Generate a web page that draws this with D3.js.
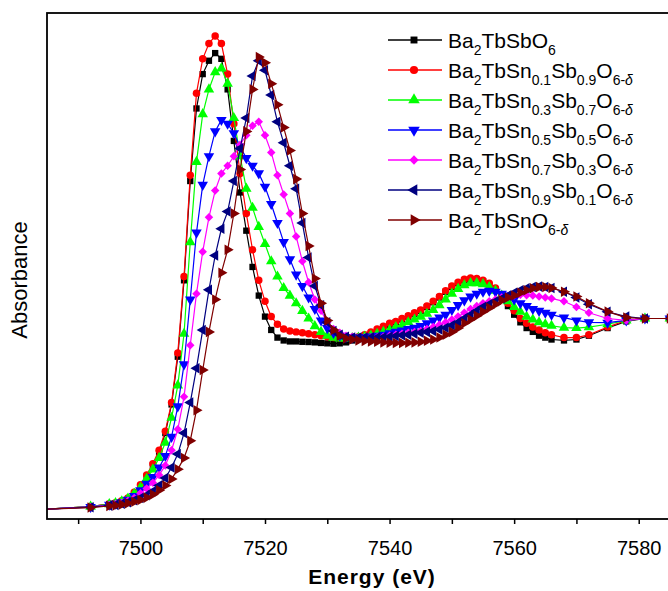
<!DOCTYPE html>
<html><head><meta charset="utf-8">
<script src="https://cdn.jsdelivr.net/npm/d3@7"></script>
<style>
body{margin:0;background:#fff}
svg{display:block}
text{font-family:"Liberation Sans",Arial,Helvetica,sans-serif;fill:#000}
</style>
</head><body>
<svg id="chart" width="668" height="591"></svg>
<script>
// ---------- DATA ----------
const energy = [7484, 7492, 7495,
 7496, 7497, 7498, 7499, 7500, 7501, 7502, 7503, 7504, 7505,
 7506, 7507, 7508, 7509, 7510, 7511, 7512, 7513, 7514, 7515,
 7516, 7517, 7518, 7519, 7520, 7521, 7522, 7523, 7524, 7525,
 7526, 7527, 7528, 7529, 7530, 7531, 7532, 7533, 7534, 7535,
 7536, 7537, 7538, 7539, 7540, 7541, 7542, 7543, 7544, 7545,
 7546, 7547, 7548, 7549, 7550, 7551, 7552, 7553, 7554, 7555,
 7556, 7557, 7558, 7559, 7560, 7561, 7562, 7563, 7564, 7565,
 7566, 7568, 7570, 7572, 7575, 7578, 7581, 7585, 7589];

const ba2tbsbo6 = [0.0, 0.015, 0.028,
 0.033, 0.04, 0.055, 0.08, 0.12, 0.17, 0.23, 0.30, 0.40, 0.55,
 0.80, 1.20, 1.72, 2.10, 2.28, 2.35, 2.39, 2.36, 2.20, 1.93,
 1.66, 1.46, 1.27, 1.12, 1.01, 0.94, 0.90, 0.885, 0.88, 0.88,
 0.878, 0.877, 0.875, 0.872, 0.87, 0.868, 0.87, 0.875, 0.885, 0.895,
 0.905, 0.92, 0.935, 0.95, 0.965, 0.98, 0.995, 1.01, 1.025, 1.04,
 1.06, 1.085, 1.11, 1.14, 1.165, 1.185, 1.20, 1.205, 1.205, 1.195,
 1.175, 1.15, 1.11, 1.065, 1.02, 0.98, 0.95, 0.93, 0.91, 0.90,
 0.89, 0.885, 0.89, 0.91, 0.95, 0.985, 1.0, 1.0, 1.0];

const sn01 = [0.0, 0.015, 0.03,
 0.035, 0.045, 0.06, 0.09, 0.13, 0.18, 0.24, 0.31, 0.41, 0.56,
 0.82, 1.22, 1.75, 2.18, 2.36, 2.44, 2.48, 2.44, 2.28, 2.02,
 1.76, 1.55, 1.36, 1.20, 1.09, 1.01, 0.97, 0.945, 0.935, 0.93,
 0.925, 0.92, 0.915, 0.91, 0.905, 0.90, 0.898, 0.898, 0.90, 0.905,
 0.915, 0.93, 0.945, 0.96, 0.975, 0.985, 1.0, 1.015, 1.03, 1.045,
 1.065, 1.09, 1.115, 1.145, 1.17, 1.19, 1.205, 1.212, 1.21, 1.20,
 1.185, 1.16, 1.12, 1.08, 1.04, 1.0, 0.975, 0.955, 0.94, 0.925,
 0.915, 0.90, 0.90, 0.915, 0.955, 0.99, 1.0, 1.0, 1.0];

const sn03 = [0.0, 0.015, 0.028,
 0.033, 0.042, 0.057, 0.082, 0.115, 0.16, 0.21, 0.27, 0.35, 0.48,
 0.65, 0.92, 1.40, 1.82, 2.07, 2.20, 2.29, 2.31, 2.23, 2.05,
 1.85, 1.68, 1.58, 1.48, 1.39, 1.30, 1.22, 1.16, 1.12, 1.08,
 1.04, 1.00, 0.96, 0.93, 0.91, 0.90, 0.895, 0.895, 0.897, 0.90,
 0.905, 0.91, 0.92, 0.93, 0.94, 0.955, 0.965, 0.98, 0.995, 1.01,
 1.025, 1.045, 1.07, 1.10, 1.13, 1.155, 1.175, 1.185, 1.185, 1.18,
 1.165, 1.145, 1.12, 1.09, 1.06, 1.035, 1.01, 0.995, 0.98, 0.97,
 0.962, 0.952, 0.95, 0.955, 0.97, 0.99, 1.0, 1.0, 1.0];

const sn05 = [0.0, 0.013, 0.025,
 0.03, 0.038, 0.05, 0.07, 0.10, 0.135, 0.17, 0.22, 0.28, 0.38,
 0.54, 0.76, 1.10, 1.45, 1.70, 1.85, 1.98, 2.04, 2.02, 1.97,
 1.90, 1.84, 1.80, 1.76, 1.69, 1.60, 1.50, 1.40, 1.31, 1.23,
 1.17, 1.11, 1.05, 0.99, 0.95, 0.925, 0.91, 0.903, 0.90, 0.90,
 0.902, 0.905, 0.91, 0.915, 0.922, 0.93, 0.937, 0.945, 0.952, 0.96,
 0.975, 0.99, 1.005, 1.02, 1.045, 1.07, 1.095, 1.115, 1.13, 1.14,
 1.145, 1.14, 1.13, 1.12, 1.10, 1.08, 1.065, 1.05, 1.04, 1.03,
 1.02, 1.005, 0.99, 0.98, 0.978, 0.99, 1.0, 1.0, 1.0];

const sn07 = [0.0, 0.013, 0.023,
 0.028, 0.035, 0.045, 0.06, 0.085, 0.11, 0.14, 0.18, 0.23, 0.31,
 0.42, 0.59, 0.86, 1.13, 1.35, 1.53, 1.67, 1.76, 1.80, 1.85,
 1.91, 1.96, 2.01, 2.03, 1.96, 1.87, 1.75, 1.65, 1.55, 1.43,
 1.30, 1.19, 1.10, 1.04, 0.98, 0.945, 0.925, 0.91, 0.905, 0.90,
 0.90, 0.90, 0.902, 0.905, 0.91, 0.915, 0.92, 0.925, 0.93, 0.935,
 0.945, 0.955, 0.967, 0.98, 0.995, 1.01, 1.03, 1.05, 1.065, 1.08,
 1.09, 1.10, 1.11, 1.118, 1.122, 1.124, 1.122, 1.12, 1.115, 1.11,
 1.105, 1.09, 1.06, 1.03, 1.00, 0.99, 1.0, 1.0, 1.0];

const sn09 = [0.0, 0.012, 0.02,
 0.024, 0.03, 0.038, 0.048, 0.06, 0.075, 0.095, 0.125, 0.165, 0.22,
 0.29, 0.40, 0.56, 0.74, 0.94, 1.15, 1.33, 1.47, 1.56, 1.72,
 1.89, 2.05, 2.27, 2.35, 2.30, 2.17, 2.03, 1.92, 1.80, 1.68,
 1.50, 1.32, 1.17, 1.07, 0.98, 0.935, 0.915, 0.905, 0.90, 0.90,
 0.90, 0.90, 0.90, 0.902, 0.905, 0.908, 0.912, 0.915, 0.92, 0.925,
 0.93, 0.935, 0.943, 0.952, 0.965, 0.98, 1.00, 1.02, 1.04, 1.06,
 1.075, 1.09, 1.105, 1.12, 1.135, 1.148, 1.158, 1.165, 1.168, 1.165,
 1.16, 1.14, 1.11, 1.075, 1.035, 1.01, 1.0, 1.0, 1.0];

const sn10 = [0.0, 0.01, 0.018,
 0.021, 0.026, 0.032, 0.04, 0.05, 0.062, 0.078, 0.10, 0.125, 0.16,
 0.21, 0.27, 0.36, 0.52, 0.73, 0.93, 1.10, 1.24, 1.36, 1.55,
 1.78, 1.98, 2.20, 2.37, 2.34, 2.23, 2.12, 2.00, 1.88, 1.73,
 1.55, 1.38, 1.21, 1.08, 0.99, 0.94, 0.91, 0.895, 0.89, 0.885,
 0.882, 0.88, 0.878, 0.875, 0.873, 0.872, 0.872, 0.873, 0.875, 0.878,
 0.883, 0.89, 0.90, 0.915, 0.93, 0.95, 0.975, 0.995, 1.015, 1.035,
 1.055, 1.075, 1.095, 1.11, 1.12, 1.135, 1.148, 1.158, 1.165, 1.165,
 1.16, 1.14, 1.115, 1.08, 1.036, 1.005, 1.0, 1.0, 1.0];

const seriesValues = [ba2tbsbo6, sn01, sn03, sn05, sn07, sn09, sn10];

// legend labels: [text, kind] kind: "" main, "s" subscript, "si" italic subscript
const legendLabels = [
  [["Ba",""],["2","s"],["TbSbO",""],["6","s"]],
  [["Ba",""],["2","s"],["TbSn",""],["0.1","s"],["Sb",""],["0.9","s"],["O",""],["6-","s"],["δ","si"]],
  [["Ba",""],["2","s"],["TbSn",""],["0.3","s"],["Sb",""],["0.7","s"],["O",""],["6-","s"],["δ","si"]],
  [["Ba",""],["2","s"],["TbSn",""],["0.5","s"],["Sb",""],["0.5","s"],["O",""],["6-","s"],["δ","si"]],
  [["Ba",""],["2","s"],["TbSn",""],["0.7","s"],["Sb",""],["0.3","s"],["O",""],["6-","s"],["δ","si"]],
  [["Ba",""],["2","s"],["TbSn",""],["0.9","s"],["Sb",""],["0.1","s"],["O",""],["6-","s"],["δ","si"]],
  [["Ba",""],["2","s"],["TbSnO",""],["6-","s"],["δ","si"]]
];

const xTickValues = [7490, 7500, 7510, 7520, 7530, 7540, 7550, 7560, 7570, 7580];
const xLabelValues = [7500, 7520, 7540, 7560, 7580];
const xTitle = "Energy (eV)";
const yTitle = "Absorbance";

// ---------- STYLE ----------
const colors = ["#000000", "#ff0000", "#00ff00", "#0000ff", "#ff00ff", "#000080", "#800000"];
const shapes = [
  {type: d3.symbolSquare, size: 40, rot: 0},
  {type: d3.symbolCircle, size: 44, rot: 0},
  {type: d3.symbolTriangle, size: 48, rot: 0},
  {type: d3.symbolTriangle, size: 48, rot: 180},
  {type: d3.symbolSquare, size: 36, rot: 45},
  {type: d3.symbolTriangle, size: 48, rot: -90},
  {type: d3.symbolTriangle, size: 48, rot: 90}
];

const W = 668, H = 591;
const plot = {left: 47, top: 13, right: 701, bottom: 519};

const svg = d3.select("#chart");
svg.append("rect").attr("width", W).attr("height", H).attr("fill", "#fff");

const x = d3.scaleLinear().domain([7485, 7590]).range([plot.left, plot.right]);
const y = d3.scaleLinear().domain([-0.05, 2.6]).range([plot.bottom, plot.top]);

svg.append("clipPath").attr("id", "clip")
  .append("rect").attr("x", plot.left).attr("y", plot.top)
  .attr("width", plot.right - plot.left).attr("height", plot.bottom - plot.top);

const g = svg.append("g").attr("clip-path", "url(#clip)");
const line = d3.line().x((d, i) => x(energy[i])).y(d => y(d));

seriesValues.forEach((vals, si) => {
  if (vals.length !== energy.length) console.error("length mismatch", si, vals.length);
  const sg = g.append("g");
  sg.append("path").attr("d", line(vals)).attr("fill", "none")
    .attr("stroke", colors[si]).attr("stroke-width", 1.2);
  const sym = d3.symbol().type(shapes[si].type).size(shapes[si].size);
  sg.selectAll("path.m").data(vals).join("path").attr("class", "m")
    .attr("d", sym)
    .attr("transform", (d, i) => `translate(${x(energy[i])},${y(d)}) rotate(${shapes[si].rot})`)
    .attr("fill", colors[si]);
});

// frame
svg.append("rect").attr("x", plot.left).attr("y", plot.top)
  .attr("width", plot.right - plot.left).attr("height", plot.bottom - plot.top)
  .attr("fill", "none").attr("stroke", "#000").attr("stroke-width", 1.8);

// x axis
const xAxis = d3.axisBottom(x).tickValues(xTickValues)
  .tickSize(5).tickSizeOuter(0).tickPadding(17)
  .tickFormat(d => xLabelValues.includes(d) ? String(d) : "");
const ax = svg.append("g").attr("transform", `translate(0,${plot.bottom})`).call(xAxis);
ax.select(".domain").remove();
ax.selectAll(".tick line").attr("stroke", "#000").attr("stroke-width", 1.5);
ax.selectAll(".tick text").attr("font-size", 20)
  .attr("font-family", "'Liberation Sans', Arial, sans-serif").attr("fill", "#000");

svg.append("text").attr("x", 372).attr("y", 584).attr("text-anchor", "middle")
  .attr("font-size", 21).attr("font-weight", "bold").attr("letter-spacing", 1)
  .text(xTitle);

svg.append("text").attr("transform", "translate(27,280) rotate(-90)")
  .attr("text-anchor", "middle").attr("font-size", 22).text(yTitle);

// legend
const lg = svg.append("g");
legendLabels.forEach((parts, i) => {
  const ly = 40 + 30 * i;
  lg.append("line").attr("x1", 388).attr("x2", 442).attr("y1", ly).attr("y2", ly)
    .attr("stroke", colors[i]).attr("stroke-width", 1.5);
  lg.append("path").attr("d", d3.symbol().type(shapes[i].type).size(shapes[i].size * 1.2)())
    .attr("transform", `translate(414,${ly}) rotate(${shapes[i].rot})`).attr("fill", colors[i]);
  const t = lg.append("text").attr("x", 448).attr("y", ly + 7.5).attr("font-size", 21);
  let sub = false;
  parts.forEach(([txt, kind]) => {
    const isSub = kind.startsWith("s");
    let dy = 0;
    if (isSub && !sub) dy = 7;
    if (!isSub && sub) dy = -7;
    sub = isSub;
    const ts = t.append("tspan").attr("dy", dy).text(txt);
    if (isSub) ts.attr("font-size", 14);
    if (kind === "si") ts.attr("font-style", "italic");
  });
});
</script>
</body></html>
